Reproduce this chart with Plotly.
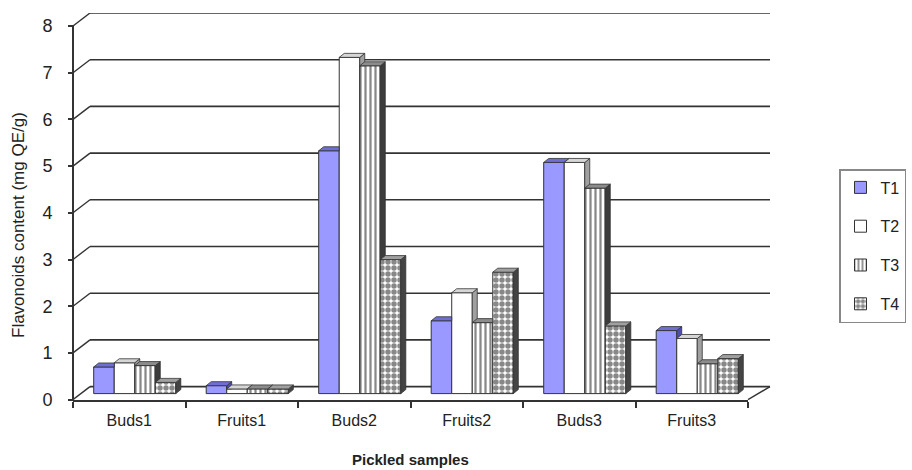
import plotly.graph_objects as go

# ---- data -------------------------------------------------------------
CATEGORIES = ["Buds1", "Fruits1", "Buds2", "Fruits2", "Buds3", "Fruits3"]
SERIES = ["T1", "T2", "T3", "T4"]
T1 = [0.57, 0.17, 5.20, 1.56, 4.95, 1.35]
T2 = [0.66, 0.10, 7.20, 2.16, 4.95, 1.18]
T3 = [0.60, 0.10, 7.02, 1.52, 4.40, 0.64]
T4 = [0.24, 0.10, 2.87, 2.60, 1.45, 0.75]
Y_TICKS = [0, 1, 2, 3, 4, 5, 6, 7, 8]
VALUES = [T1, T2, T3, T4]

# ---- geometry / style -------------------------------------------------
FIG_W, FIG_H = 912, 470
PLOT_LEFT, PLOT_RIGHT = 73, 770
PLOT_TOP, PLOT_BOTTOM = 13, 400
FRONT_RIGHT = 748            # end of the front floor edge
PX_PER_UNIT = 46.7
WALL_DX, WALL_DY = 17, 13    # front axis -> back wall
BAR_DX, BAR_DY = 5.5, 7      # bars stand this far behind the front edge
CAP_DX, CAP_DY = 5, 4        # depth of each bar
BARGAP = 0.27
FONT = "Liberation Sans, Arial, sans-serif"
INK = "#222222"
LINE = "#333333"

FACE = ["#9999FF", "#FFFFFF", "#FFFFFF", "#FFFFFF"]
CAP = ["#6E6ED6", "#D6D6D6", "#8C8C8C", "#A0A0A0"]
SIDE = ["#4D4DAA", "#A0A0A0", "#3C3C3C", "#444444"]
PATTERN = [
    dict(shape=""),
    dict(shape=""),
    dict(shape="|", fgcolor="#111111", bgcolor="#FFFFFF", size=5, solidity=0.45),
    dict(shape=".", fgcolor="#111111", bgcolor="#FFFFFF", size=6, solidity=0.65),
]

plot_w = PLOT_RIGHT - PLOT_LEFT
plot_h = PLOT_BOTTOM - PLOT_TOP
n_cat = len(CATEGORIES)
front_frac = (FRONT_RIGHT - PLOT_LEFT) / plot_w
px_per_cat = (FRONT_RIGHT - PLOT_LEFT) / n_cat
wall_x = WALL_DX / plot_w

y_top = Y_TICKS[-1]
y_back = [y_top - plot_h / PX_PER_UNIT, y_top]
front_shift = WALL_DY / PX_PER_UNIT
bar_shift = BAR_DY / PX_PER_UNIT
y_front = [y_back[0] + front_shift, y_back[1] + front_shift]
y_bar = [y_back[0] + bar_shift, y_back[1] + bar_shift]
x_front = [-0.5, n_cat - 0.5]
x_shift = BAR_DX / px_per_cat
x_bar = [x_front[0] - x_shift, x_front[1] - x_shift]

fig = go.Figure()

for k, (name, vals) in enumerate(zip(SERIES, VALUES)):
    fig.add_trace(go.Bar(
        x=list(range(n_cat)), y=vals, name=name,
        xaxis="x2", yaxis="y3", legendgroup=name,
        marker=dict(color=FACE[k], pattern=PATTERN[k],
                    line=dict(color=LINE, width=1)),
    ))

shapes = []
# back wall gridlines and the short diagonals joining them to the front axis
for v in Y_TICKS:
    shapes.append(dict(type="line", xref="paper", yref="y", x0=wall_x, x1=1,
                       y0=v, y1=v, line=dict(color=LINE, width=1.6), layer="below"))
    shapes.append(dict(type="line", xref="paper", yref="y", x0=0, x1=wall_x,
                       y0=v - front_shift, y1=v, line=dict(color=LINE, width=1.4),
                       layer="below"))
# front value axis
shapes.append(dict(type="line", xref="paper", yref="y2", x0=0, x1=0,
                   y0=Y_TICKS[0], y1=Y_TICKS[-1], line=dict(color=LINE, width=2)))
# right edge of the floor
shapes.append(dict(type="line", xref="paper", yref="y", x0=front_frac, x1=1,
                   y0=Y_TICKS[0] - front_shift, y1=Y_TICKS[0],
                   line=dict(color=LINE, width=1.4)))

# top caps and side faces give each bar its depth
w = (1 - BARGAP) / len(SERIES)
dxd = CAP_DX / px_per_cat
dyd = CAP_DY / PX_PER_UNIT
for i in range(n_cat):
    for k, vals in enumerate(VALUES):
        v = vals[i]
        xl = i + (k - (len(SERIES) - 1) / 2) * w - w / 2
        xr = xl + w
        nxt = VALUES[k + 1][i] if k + 1 < len(SERIES) else None
        if nxt is None or nxt < v:
            bottom = 0 if nxt is None else nxt
            lift = dyd if nxt is None else 0
            side = (f"M{xr},{v} L{xr + dxd},{v + dyd} "
                    f"L{xr + dxd},{bottom + lift} L{xr},{bottom} Z")
            shapes.append(dict(type="path", xref="x2", yref="y3", path=side,
                               fillcolor=SIDE[k], line=dict(color=LINE, width=0.8)))
        if nxt is not None and nxt > v:
            cap = (f"M{xl},{v} L{xr},{v} L{xr},{v + dyd} "
                   f"L{xl + dxd},{v + dyd} Z")
        else:
            cap = (f"M{xl},{v} L{xr},{v} L{xr + dxd},{v + dyd} "
                   f"L{xl + dxd},{v + dyd} Z")
        shapes.append(dict(type="path", xref="x2", yref="y3", path=cap,
                           fillcolor=CAP[k], line=dict(color=LINE, width=0.8)))

fig.update_layout(
    width=FIG_W, height=FIG_H,
    margin=dict(l=PLOT_LEFT, r=FIG_W - PLOT_RIGHT, t=PLOT_TOP, b=FIG_H - PLOT_BOTTOM,
                autoexpand=False),
    paper_bgcolor="white", plot_bgcolor="white",
    font=dict(family=FONT, color=INK),
    barmode="group", bargap=BARGAP, bargroupgap=0,
    xaxis=dict(
        type="linear", domain=[0, front_frac], range=x_front,
        tickvals=list(range(n_cat)), ticktext=CATEGORIES, ticks="",
        tickfont=dict(size=16, family=FONT, color=INK), ticklabelstandoff=5,
        showgrid=False, zeroline=False, showline=True, linecolor=LINE, linewidth=2,
        minor=dict(tick0=-0.5, dtick=1, ticks="outside", ticklen=6,
                   tickcolor=LINE, tickwidth=1.5, showgrid=False),
        anchor="y", fixedrange=True,
    ),
    xaxis2=dict(type="linear", overlaying="x", range=x_bar, visible=False,
                anchor="y3", fixedrange=True),
    yaxis=dict(range=y_back, visible=False, fixedrange=True),
    yaxis2=dict(
        overlaying="y", anchor="free", position=0, side="left", range=y_front,
        tickvals=Y_TICKS, ticks="outside", ticklen=5, tickcolor=LINE, tickwidth=1.5,
        tickfont=dict(size=18, family=FONT, color=INK), ticklabelstandoff=12,
        showgrid=False, zeroline=False, showline=False, fixedrange=True,
    ),
    yaxis3=dict(overlaying="y", range=y_bar, visible=False, anchor="x2",
                fixedrange=True),
    shapes=shapes,
    legend=dict(
        x=(906 - PLOT_LEFT) / plot_w, y=1 - (169 - PLOT_TOP) / plot_h,
        xanchor="right", yanchor="top",
        bordercolor="#888888", borderwidth=1.5, bgcolor="white",
        font=dict(size=16, family=FONT, color=INK), tracegroupgap=15,
    ),
    showlegend=True,
    annotations=[
        dict(text="Flavonoids content (mg QE/g)", textangle=-90,
             xref="paper", yref="paper", x=0, xshift=-(PLOT_LEFT - 18),
             y=1 - (225 - PLOT_TOP) / plot_h, xanchor="center", yanchor="middle",
             showarrow=False, font=dict(size=17, family=FONT, color=INK)),
        dict(text="<b>Pickled samples</b>",
             xref="paper", yref="paper", x=(410 - PLOT_LEFT) / plot_w,
             y=-(459 - PLOT_BOTTOM) / plot_h, xanchor="center", yanchor="middle",
             showarrow=False, font=dict(size=15, family=FONT, color=INK)),
    ],
)

fig.write_html("out.html")
